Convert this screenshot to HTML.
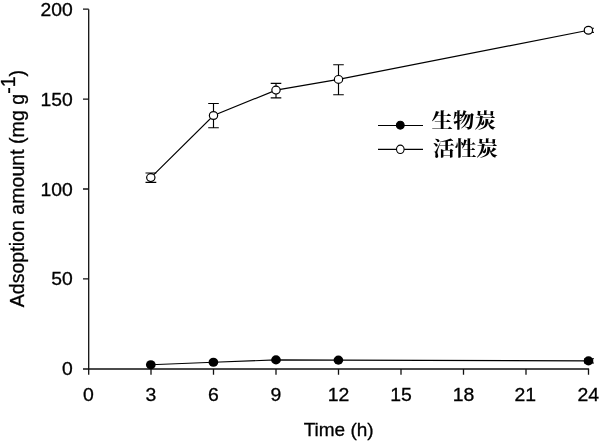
<!DOCTYPE html>
<html><head><meta charset="utf-8"><title>Adsorption chart</title>
<style>
html,body{margin:0;padding:0;background:#fff;}
body{width:600px;height:442px;overflow:hidden;}
svg{display:block;}
text{font-family:"Liberation Sans",sans-serif;fill:#000;stroke:#000;stroke-width:0.3px;}
.cjk{stroke:none;}
.cjk{font-family:"Liberation Serif","Noto Serif CJK SC",serif;font-weight:700;}
</style></head><body>
<svg width="600" height="442" viewBox="0 0 600 442">
<rect width="600" height="442" fill="#fff"/>
<g stroke="#111" stroke-width="1.3" fill="none">
<!-- axes -->
<path d="M88.7 9.2V369H589.1"/>
<!-- y ticks -->
<path d="M83 9.2H88.7M83 99.1H88.7M83 189H88.7M83 278.9H88.7M83 369H88.7"/>
<!-- x ticks -->
<path d="M88.7 369V374.7M151 369V374.7M213.5 369V374.7M276 369V374.7M338.5 369V374.7M401 369V374.7M463.5 369V374.7M526 369V374.7M588.5 369V374.7"/>
</g>
<!-- series: filled -->
<g stroke="#000" stroke-width="1.15" fill="none">
<polyline points="150.8,364.8 213.4,362.2 276,359.9 338.4,360.1 588.5,360.9"/>
<path d="M584.2 358.7H594M584.2 363H594"/>
</g>
<g fill="#000">
<ellipse cx="150.8" cy="364.8" rx="4.85" ry="4.55"/><ellipse cx="213.4" cy="362.2" rx="4.85" ry="4.55"/><ellipse cx="276" cy="359.9" rx="4.85" ry="4.55"/><ellipse cx="338.4" cy="360.1" rx="4.85" ry="4.55"/><ellipse cx="588.5" cy="360.9" rx="4.85" ry="4.55"/>
</g>
<!-- series: open -->
<g stroke="#000" stroke-width="1.15" fill="none">
<polyline points="150.8,177.6 213.5,115.5 276,90.1 338.5,79.4 588.4,30.3"/>
<path d="M150.8 173V182.3M145.5 173H156.3M145.5 182.3H156.3"/>
<path d="M213.5 103.5V127.7M208.2 103.5H218.8M208.2 127.7H218.8"/>
<path d="M276 83.3V97.8M270.7 83.3H281.3M270.7 97.8H281.3"/>
<path d="M338.5 64.7V94.7M333.2 64.7H343.8M333.2 94.7H343.8"/>
<path d="M584.2 28.2H593.9M584.2 32.4H593.9"/>
</g>
<g stroke="#000" stroke-width="1.2" fill="#fff">
<ellipse cx="150.8" cy="177.6" rx="4.15" ry="3.9"/><ellipse cx="213.5" cy="115.5" rx="4.15" ry="3.9"/><ellipse cx="276" cy="90.1" rx="4.15" ry="3.9"/><ellipse cx="338.5" cy="79.4" rx="4.15" ry="3.9"/><ellipse cx="588.4" cy="30.3" rx="4.15" ry="3.9"/>
</g>
<!-- legend -->
<g stroke="#000" stroke-width="1.1">
<path d="M378 125.5H423M378 149.4H423" fill="none"/>
<circle cx="400.3" cy="125.2" r="3.9" fill="#000"/>
<ellipse cx="400.3" cy="149.3" rx="3.8" ry="4.2" fill="#fff"/>
</g>
<text class="cjk" transform="translate(431.5,127.6) scale(1.052,1)" font-size="20.4">生物炭</text>
<text class="cjk" transform="translate(433,155.7) scale(1.0625,1)" font-size="20.4">活性炭</text>
<!-- y tick labels -->
<g font-size="18.5" text-anchor="end">
<text transform="translate(72.8,15.7) scale(1.045,1)">200</text>
<text transform="translate(72.8,105.7) scale(1.045,1)">150</text>
<text transform="translate(72.8,195.5) scale(1.045,1)">100</text>
<text transform="translate(72.8,285.4) scale(1.045,1)">50</text>
<text transform="translate(72.8,375.2) scale(1.045,1)">0</text>
</g>
<!-- x tick labels -->
<g font-size="18.5" text-anchor="middle">
<text transform="translate(88.5,401.2) scale(1.05,1)">0</text>
<text transform="translate(151,401.2) scale(1.05,1)">3</text>
<text transform="translate(213.5,401.2) scale(1.05,1)">6</text>
<text transform="translate(276,401.2) scale(1.05,1)">9</text>
<text transform="translate(338.5,401.2) scale(1.05,1)">12</text>
<text transform="translate(401,401.2) scale(1.05,1)">15</text>
<text transform="translate(463.5,401.2) scale(1.05,1)">18</text>
<text transform="translate(525.3,401.2) scale(1.05,1)">21</text>
<text transform="translate(588.3,401.2) scale(1.05,1)">24</text>
</g>
<text x="338.7" y="436" font-size="19" text-anchor="middle">Time (h)</text>
<text transform="translate(24.2,307.3) rotate(-90)" font-size="19.6">Adsoption amount (mg g<tspan dy="-9">-1</tspan><tspan dy="9">)</tspan></text>
</svg>
</body></html>
